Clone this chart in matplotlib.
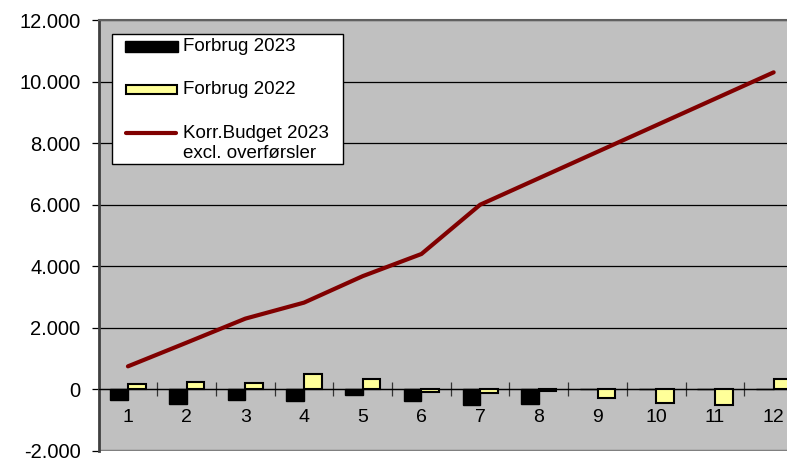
import matplotlib.pyplot as plt
from matplotlib.patches import Rectangle
from matplotlib.lines import Line2D
from matplotlib.ticker import FuncFormatter, FixedLocator

plt.rcParams['font.family'] = ['Liberation Sans', 'DejaVu Sans']

months = [1, 2, 3, 4, 5, 6, 7, 8, 9, 10, 11, 12]
forbrug_2023 = [-350, -460, -335, -375, -170, -390, -505, -485, 0, 0, 0, 0]
forbrug_2022 = [170, 235, 215, 495, 345, -90, -120, -40, -280, -440, -495, 335]
budget_2023 = [750, 1520, 2300, 2820, 3680, 4400, 6000, 6860, 7720, 8580, 9440, 10300]

W, H = 787, 462

def fx(x):
    return x / W

def fy(y):
    return 1 - y / H

fig = plt.figure(figsize=(W / 100, H / 100), dpi=100)
# plot area runs past the right edge, as in the original
ax = fig.add_axes([fx(98.6), fy(451), (803 - 98.6) / W, (451 - 20) / H])
ax.set_facecolor('#C0C0C0')

bw = 0.3
x23 = [m - bw / 2 for m in months]
x22 = [m + bw / 2 for m in months]
ax.bar(x23, forbrug_2023, width=bw, color='black', edgecolor='black', linewidth=1, zorder=3)
ax.bar(x22, forbrug_2022, width=bw, color='#FFFF99', edgecolor='black', linewidth=1.5, zorder=3)
ax.plot(months, budget_2023, color='#800000', linewidth=3, solid_capstyle='round', zorder=4)

ax.set_xlim(0.5, 12.5)
ax.set_ylim(-2000, 12000)
ax.set_yticks(range(-2000, 12001, 2000))
ax.yaxis.set_major_formatter(FuncFormatter(lambda v, p: f"{int(v):,}".replace(",", ".")))
ax.grid(axis='y', color='black', linewidth=0.9, zorder=1)
ax.axhline(-2000, color='#808080', linewidth=2.5, zorder=2)

ax.set_xticks(months)
ax.xaxis.set_minor_locator(FixedLocator([m + 0.5 for m in months[:-1]]))
ax.tick_params(axis='x', which='major', length=0, pad=14, labelsize=14)
ax.tick_params(axis='x', which='minor', direction='inout', length=10, width=0.9, color='#333333')
ax.tick_params(axis='y', direction='out', length=5, width=0.9, pad=8, labelsize=14.5)

ax.spines['bottom'].set_position(('data', 0))
ax.spines['bottom'].set_color('black')
ax.spines['bottom'].set_linewidth(0.9)
ax.spines['right'].set_visible(False)
ax.spines['top'].set_color('#606060')
ax.spines['top'].set_linewidth(1.5)
ax.spines['left'].set_color('#404040')
ax.spines['left'].set_linewidth(2)

# legend box, laid out like the original
fig.add_artist(Rectangle((fx(112), fy(164)), (343 - 112) / W, (164 - 34) / H,
                         transform=fig.transFigure, facecolor='white', edgecolor='black',
                         linewidth=1, zorder=5))
fig.add_artist(Rectangle((fx(125), fy(52)), 53 / W, 11 / H, transform=fig.transFigure,
                         facecolor='black', edgecolor='black', linewidth=1, zorder=6))
fig.add_artist(Rectangle((fx(126), fy(94)), 51 / W, 9 / H, transform=fig.transFigure,
                         facecolor='#FFFF99', edgecolor='black', linewidth=1.5, zorder=6))
fig.add_artist(Line2D([fx(126), fx(176)], [fy(132.5), fy(132.5)], transform=fig.transFigure,
                      color='#800000', linewidth=3, solid_capstyle='round', zorder=6))
fs = 13.5
fig.text(fx(183), fy(46.5), 'Forbrug 2023', fontsize=fs, va='center', ha='left', zorder=7)
fig.text(fx(183), fy(89.5), 'Forbrug 2022', fontsize=fs, va='center', ha='left', zorder=7)
fig.text(fx(183), fy(133), 'Korr.Budget 2023', fontsize=fs, va='center', ha='left', zorder=7)
fig.text(fx(183), fy(153), 'excl. overførsler', fontsize=fs, va='center', ha='left', zorder=7)

fig.savefig('out.png', dpi=100)
